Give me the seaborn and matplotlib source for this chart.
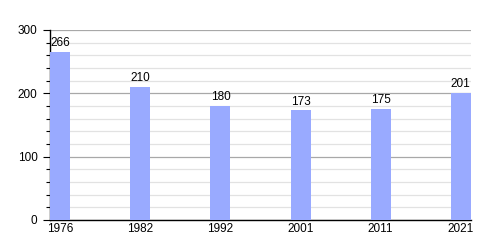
import matplotlib
matplotlib.use("Agg")
import matplotlib.pyplot as plt
from matplotlib.ticker import MultipleLocator
import seaborn as sns
import pandas as pd

years = ["1976", "1982", "1992", "2001", "2011", "2021"]
population = [266, 210, 180, 173, 175, 201]

sns.set_style("white")
plt.rcParams["font.family"] = ["Liberation Sans", "DejaVu Sans"]
plt.rcParams["text.color"] = "black"
plt.rcParams["xtick.color"] = "black"
plt.rcParams["ytick.color"] = "black"

df = pd.DataFrame({"year": years, "pop": population})

fig = plt.figure(figsize=(5, 2.5), dpi=100)
ax = fig.add_axes([0.1, 0.12, 0.842, 0.76])

sns.barplot(data=df, x="year", y="pop", color="#99aaff", saturation=1,
            width=0.25, ax=ax, zorder=3, linewidth=0, edgecolor="none")

ax.set_xlim(-0.131, 5.131)
ax.set_ylim(0, 300)
ax.yaxis.set_major_locator(MultipleLocator(100))
ax.yaxis.set_minor_locator(MultipleLocator(20))
ax.grid(which="major", axis="y", color="#a8a8a8", linewidth=0.9, zorder=0)
ax.grid(which="minor", axis="y", color="#e2e2e2", linewidth=0.9, zorder=0)
ax.set_axisbelow(True)

for s in ["top", "right"]:
    ax.spines[s].set_visible(False)
for s in ["left", "bottom"]:
    ax.spines[s].set_color("black")
    ax.spines[s].set_linewidth(1.0)

ax.tick_params(axis="y", which="major", length=5, width=0.8, color="black",
               labelsize=8.5, pad=4, left=True, labelcolor="black")
ax.tick_params(axis="y", which="minor", length=3, width=0.8, color="black", left=True)
ax.tick_params(axis="x", length=0, labelsize=8.5, pad=2, labelcolor="black")

for c in ax.containers:
    ax.bar_label(c, labels=[str(v) for v in population], padding=2,
                 fontsize=8.5, color="black")

ax.set_xlabel("")
ax.set_ylabel("")

fig.savefig("out.png", dpi=100)
